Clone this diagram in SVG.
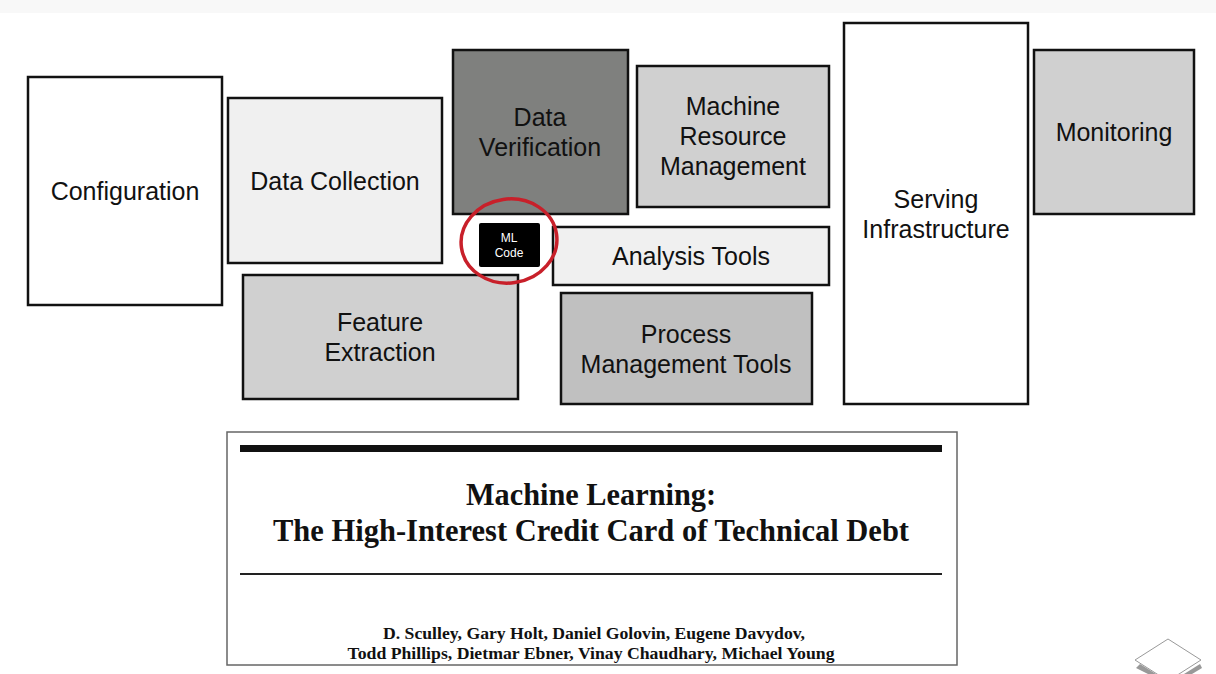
<svg xmlns="http://www.w3.org/2000/svg" width="1216" height="674" viewBox="0 0 1216 674">
<style>
.box{stroke:#111;stroke-width:2.5}
.lbl{font-family:"Liberation Sans",Arial,sans-serif;font-size:25px;fill:#111;text-anchor:middle}
.ttl{font-family:"Liberation Serif","Times New Roman",serif;font-weight:bold;fill:#111;text-anchor:middle}
</style>
<rect x="0" y="0" width="1216" height="674" fill="#fff"/>
<rect x="0" y="0" width="1216" height="13" fill="#f8f8f8"/>
<g id="configuration"><rect class="box" x="28" y="77" width="194" height="228" fill="#fff"/><text class="lbl" x="125" y="200">Configuration</text></g>
<g id="data-collection"><rect class="box" x="228" y="98" width="214" height="165" fill="#f0f0f0"/><text class="lbl" x="335" y="190">Data Collection</text></g>
<g id="data-verification"><rect class="box" x="453" y="50" width="175" height="164" fill="#7f807e"/><text class="lbl" x="540" y="126">Data</text><text class="lbl" x="540" y="156">Verification</text></g>
<g id="machine-resource-management"><rect class="box" x="637" y="66" width="192" height="141" fill="#d0d0d0"/><text class="lbl" x="733" y="115">Machine</text><text class="lbl" x="733" y="145">Resource</text><text class="lbl" x="733" y="175">Management</text></g>
<g id="analysis-tools"><rect class="box" x="553" y="227" width="276" height="58" fill="#f0f0f0"/><text class="lbl" x="691" y="265">Analysis Tools</text></g>
<g id="feature-extraction"><rect class="box" x="243" y="275" width="275" height="124" fill="#d0d0d0"/><text class="lbl" x="380" y="331">Feature</text><text class="lbl" x="380" y="361">Extraction</text></g>
<g id="process-management-tools"><rect class="box" x="561" y="293" width="251" height="111" fill="#c0c0c0"/><text class="lbl" x="686" y="343">Process</text><text class="lbl" x="686" y="373">Management Tools</text></g>
<g id="serving-infrastructure"><rect class="box" x="844" y="23" width="184" height="381" fill="#fff"/><text class="lbl" x="936" y="208">Serving</text><text class="lbl" x="936" y="238">Infrastructure</text></g>
<g id="monitoring"><rect class="box" x="1034" y="50" width="160" height="164" fill="#d0d0d0"/><text class="lbl" x="1114" y="141">Monitoring</text></g>
<g id="ml-code"><rect x="479" y="223" width="61" height="44" rx="2" fill="#000"/><text x="509" y="242" font-family="Liberation Sans,Arial,sans-serif" font-size="12" fill="#fff" text-anchor="middle">ML</text><text x="509" y="257" font-family="Liberation Sans,Arial,sans-serif" font-size="12" fill="#fff" text-anchor="middle">Code</text><ellipse cx="509" cy="241" rx="48" ry="42" fill="none" stroke="#c8202a" stroke-width="3.5" transform="rotate(-8 509 241)"/></g>
<g id="paper"><rect x="227" y="432" width="730" height="233" fill="#fff" stroke="#666" stroke-width="1.5"/><rect x="240" y="445" width="702" height="7" fill="#111"/><rect x="240" y="573" width="702" height="2" fill="#222"/>
<text class="ttl" x="591" y="505" font-size="32" textLength="250" lengthAdjust="spacingAndGlyphs">Machine Learning:</text>
<text class="ttl" x="591" y="541" font-size="32" textLength="636" lengthAdjust="spacingAndGlyphs">The High-Interest Credit Card of Technical Debt</text>
<text class="ttl" x="594" y="639" font-size="17" textLength="422" lengthAdjust="spacingAndGlyphs">D. Sculley, Gary Holt, Daniel Golovin, Eugene Davydov,</text>
<text class="ttl" x="591" y="659" font-size="17" textLength="487" lengthAdjust="spacingAndGlyphs">Todd Phillips, Dietmar Ebner, Vinay Chaudhary, Michael Young</text></g>
<g id="nav"><polygon points="1136,668 1148,674 1156,674 1140,664" fill="#999"/><polygon points="1200,664 1184,674 1192,674 1202,668" fill="#999"/><polygon points="1168,639 1201,660 1168,681 1135,660" fill="#fff" stroke="#999" stroke-width="1"/></g>
<g id="connectors"></g>
</svg>
